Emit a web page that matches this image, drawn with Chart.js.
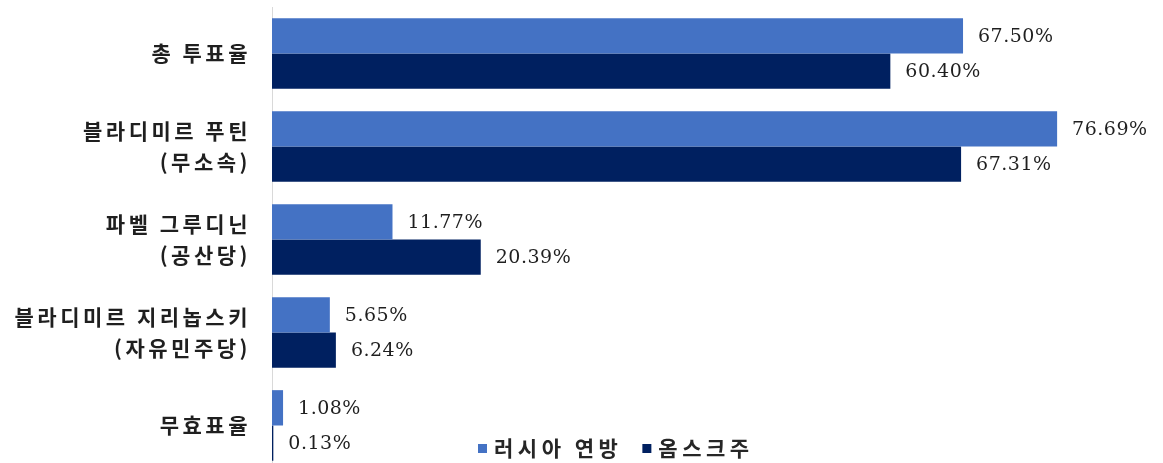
<!DOCTYPE html>
<html>
<head>
<meta charset="utf-8">
<script src="https://cdn.jsdelivr.net/npm/chart.js@4/dist/chart.umd.min.js"></script>
<style>
  html, body { margin: 0; padding: 0; background: #fff; overflow: hidden; }
  #wrap { width: 1163px; height: 472px; position: relative; }
</style>
</head>
<body>
<div id="wrap"><canvas id="voteChart"></canvas></div>
<script>
// données
const categories = [
  '총 투표율',
  ['블라디미르 푸틴', '(무소속)'],
  ['파벨 그루디닌', '(공산당)'],
  ['블라디미르 지리놉스키', '(자유민주당)'],
  '무효표율'
];
const seriesNames = ['러시아 연방', '옴스크주'];
const russiaValues = [67.50, 76.69, 11.77, 5.65, 1.08];
const omskValues = [60.40, 67.31, 20.39, 6.24, 0.13];
const seriesColors = ['#4472C4', '#002060'];

// espacement des lettres pour les libellés de l'axe
const spacingPlugin = {
  id: 'spacing',
  beforeDraw(chart) {
    chart.ctx.letterSpacing = '3.5px';
  }
};

// étiquettes de valeur à droite des barres
const valueLabels = {
  id: 'valueLabels',
  afterDatasetsDraw(chart) {
    const ctx = chart.ctx;
    ctx.save();
    ctx.letterSpacing = '0.5px';
    ctx.font = '19px "DejaVu Serif"';
    ctx.fillStyle = '#1f1f1f';
    ctx.textAlign = 'left';
    ctx.textBaseline = 'middle';
    chart.data.datasets.forEach((ds, i) => {
      chart.getDatasetMeta(i).data.forEach((bar, j) => {
        ctx.fillText(ds.data[j].toFixed(2) + '%', bar.x + 15, bar.y + 1);
      });
    });
    ctx.restore();
  }
};

// légende dessinée dans la zone du graphique
const innerLegend = {
  id: 'innerLegend',
  afterDraw(chart) {
    const ctx = chart.ctx;
    ctx.save();
    ctx.letterSpacing = '4.5px';
    ctx.font = 'bold 21px "Noto Sans CJK KR"';
    ctx.textBaseline = 'middle';
    ctx.textAlign = 'left';
    let x = 478;
    const y = 448;
    chart.data.datasets.forEach((ds) => {
      ctx.fillStyle = ds.backgroundColor;
      ctx.fillRect(x, y - 4, 9, 9);
      ctx.fillStyle = '#262626';
      ctx.fillText(ds.label, x + 16, y);
      x += 16 + ctx.measureText(ds.label).width + 20;
    });
    ctx.restore();
  }
};

const ctx = document.getElementById('voteChart').getContext('2d');

const chart = new Chart(ctx, {
  type: 'bar',
  data: {
    labels: categories,
    datasets: [{
      label: seriesNames[0],
      data: russiaValues,
      backgroundColor: seriesColors[0]
    },
    {
      label: seriesNames[1],
      data: omskValues,
      backgroundColor: seriesColors[1]
    }]
  },
  options: {
    indexAxis: 'y',
    responsive: true,
    maintainAspectRatio: false,
    animation: false,
    categoryPercentage: 0.76,
    barPercentage: 1.0,
    layout: {
      padding: { top: 7, right: 72, bottom: 0, left: 0 }
    },
    plugins: {
      legend: { display: false },
      tooltip: { enabled: false }
    },
    scales: {
      x: {
        display: false,
        min: 0,
        max: 80
      },
      y: {
        afterFit(scale) {
          scale.width = 272;
          scale.paddingTop = 0; // pas de marge pour les libellés
          scale.paddingBottom = 0;
        },
        grid: { display: false, drawTicks: false },
        border: { display: true, color: '#d9d9d9', width: 1 },
        ticks: {
          padding: 21,
          color: '#1f1f1f',
          font: { family: '"Noto Sans CJK KR"', size: 21, weight: 'bold', lineHeight: 1.45 }
        }
      }
    }
  },
  plugins: [spacingPlugin, valueLabels, innerLegend]
});
</script>
</body>
</html>
